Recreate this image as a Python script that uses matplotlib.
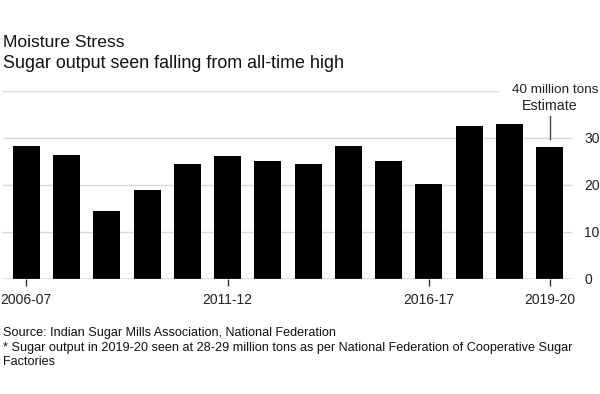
import matplotlib.pyplot as plt

plt.rcParams['font.family'] = ['Liberation Sans', 'DejaVu Sans']

seasons = ['2006-07', '2007-08', '2008-09', '2009-10', '2010-11', '2011-12', '2012-13',
           '2013-14', '2014-15', '2015-16', '2016-17', '2017-18', '2018-19', '2019-20']
output = [28.4, 26.3, 14.5, 18.9, 24.4, 26.2, 25.1, 24.4, 28.3, 25.1, 20.2, 32.5, 33.0, 28.0]
shown_labels = ['2006-07', '2011-12', '2016-17', '2019-20']
y_ticks = [0, 10, 20, 30]

fig = plt.figure(figsize=(6, 3.94), dpi=100)
ax = fig.add_axes([0.005, 0.292, 0.948, 0.477])

x = list(range(len(seasons)))
ax.bar(x, output, width=0.67, color='black', zorder=3)

ax.set_xlim(-0.58, len(seasons) - 0.45)
ax.set_ylim(0, 40)

# gridlines
for v in y_ticks[1:]:
    ax.axhline(v, color='#d9d9d9', lw=1, zorder=1, xmax=1.007)
ax.axhline(40, color='#d9d9d9', lw=1, zorder=1, xmax=0.87)
ax.axhline(0, color='#777777', lw=1, zorder=4)

for s in ax.spines.values():
    s.set_visible(False)

# right-hand y labels
ax.yaxis.tick_right()
ax.set_yticks(y_ticks)
ax.set_yticklabels([str(v) for v in y_ticks])
ax.tick_params(axis='y', length=0, pad=9, labelsize=10, labelcolor='#222222')
ax.text(1.0475, 40.3, '40 million tons', transform=ax.get_yaxis_transform(),
        ha='right', va='center', fontsize=9.7, color='#222222', zorder=5)

# bottom ticks
ax.set_xticks([seasons.index(s) for s in shown_labels])
ax.set_xticklabels(shown_labels)
ax.tick_params(axis='x', length=5, width=1, color='#333333', pad=5,
               labelsize=10, labelcolor='#222222')

# estimate marker
last = len(seasons) - 1
ax.plot([last, last], [output[last] + 1.7, output[last] + 6.6], color='#444444', lw=1, zorder=5)
ax.text(last, output[last] + 8.8, 'Estimate', ha='center', va='center',
        fontsize=10.3, color='#222222', zorder=6)

# titles
fig.text(0.005, 0.893, 'Moisture Stress', fontsize=12.6, color='#111111', va='center')
fig.text(0.005, 0.840, 'Sugar output seen falling from all-time high', fontsize=12.9,
         color='#111111', va='center')

# footnotes
fig.text(0.005, 0.155, 'Source: Indian Sugar Mills Association, National Federation',
         fontsize=9.1, color='#111111', va='center')
fig.text(0.005, 0.099,
         '* Sugar output in 2019-20 seen at 28-29 million tons as per National Federation of Cooperative Sugar\nFactories',
         fontsize=9.1, color='#111111', va='center', linespacing=1.25)

fig.savefig('out.png', dpi=100)
